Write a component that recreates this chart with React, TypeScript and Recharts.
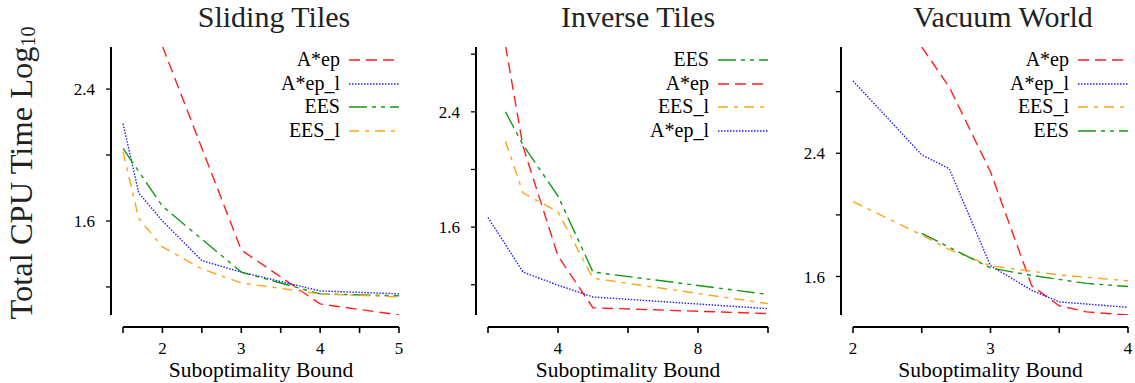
import React from "react";
import { LineChart, Line, XAxis, YAxis, Legend } from "recharts";

type Pair = [number, number];

// Sliding Tiles
const slidingAep: Pair[] = [[2, 2.66], [3, 1.424], [4, 1.097], [5, 1.03]];
const slidingAepL: Pair[] = [[1.5, 2.19], [1.7, 1.77], [2, 1.6], [2.5, 1.36], [3, 1.29], [4, 1.176], [5, 1.158]];
const slidingEes: Pair[] = [[1.5, 2.04], [2, 1.69], [3, 1.29], [4, 1.158], [5, 1.146]];
const slidingEesL: Pair[] = [[1.5, 2.02], [1.7, 1.615], [2, 1.443], [2.5, 1.31], [3, 1.224], [4, 1.158], [5, 1.14]];

// Inverse Tiles
const inverseEes: Pair[] = [[2.5, 2.4], [3, 2.17], [4, 1.816], [5, 1.288], [10, 1.133]];
const inverseAep: Pair[] = [[2.5, 2.86], [3, 2.16], [4, 1.4], [5, 1.04], [10, 1.0]];
const inverseEesL: Pair[] = [[2.5, 2.195], [3, 1.838], [4, 1.705], [5, 1.245], [10, 1.069]];
const inverseAepL: Pair[] = [[2, 1.667], [3, 1.288], [4, 1.197], [5, 1.115], [10, 1.034]];

// Vacuum World
const vacuumAep: Pair[] = [[2.5, 3.09], [2.7, 2.83], [3, 2.28], [3.3, 1.54], [3.5, 1.41], [3.7, 1.37], [4, 1.35]];
const vacuumAepL: Pair[] = [[2, 2.87], [2.5, 2.39], [2.7, 2.3], [3, 1.67], [3.3, 1.51], [3.5, 1.435], [4, 1.4]];
const vacuumEesL: Pair[] = [[2, 2.086], [2.5, 1.87], [2.7, 1.775], [3, 1.67], [3.5, 1.61], [4, 1.572]];
const vacuumEes: Pair[] = [[2.5, 1.88], [2.7, 1.79], [3, 1.655], [3.3, 1.607], [3.7, 1.555], [4, 1.535]];

// axis ticks
const slidingXTicks = [1.5, 2, 2.5, 3, 3.5, 4, 4.5, 5];
const slidingXLabels = [2, 3, 4, 5];
const inverseXTicks = [2, 4, 6, 8, 10];
const inverseXLabels = [4, 8];
const vacuumXTicks = [2, 2.5, 3, 3.5, 4];
const vacuumXLabels = [2, 3, 4];
const yLabels = [1.6, 2.4];

const SERIF = '"Liberation Serif", "Times New Roman", serif';

const STYLE: Record<string, { stroke: string; dash: string }> = {
  "A*ep": { stroke: "#ff1f1f", dash: "11 6" },
  "A*ep_l": { stroke: "#1f1fff", dash: "1.5 1.5" },
  EES: { stroke: "#139913", dash: "18 5 4 5 4 5" },
  EES_l: { stroke: "#ffa31a", dash: "10 6 4 6" },
};

interface Series {
  name: string;
  data: Pair[];
}

interface PanelProps {
  left: number;
  width: number;
  yAxisWidth: number;
  marginRight: number;
  title: string;
  titleX: number;
  xDomain: [number, number];
  xTicks: number[];
  xLabels: number[];
  yDomain: [number, number];
  yTicks: number[];
  series: Series[];
  yTitle?: boolean;
}

function LegendBox({ names }: { names: string[] }) {
  return (
    <div style={{ fontFamily: SERIF, fontSize: 20, color: "#000" }}>
      {names.map((n) => (
        <div key={n} style={{ display: "flex", alignItems: "center", height: 23.7 }}>
          <span style={{ width: 91, textAlign: "right", lineHeight: "23.7px" }}>{n}</span>
          <svg width={59} height={10}>
            <line
              x1={9}
              x2={59}
              y1={5}
              y2={5}
              stroke={STYLE[n].stroke}
              strokeDasharray={STYLE[n].dash}
              strokeWidth={1.4}
            />
          </svg>
        </div>
      ))}
    </div>
  );
}

function YTitle(props: any) {
  const vb = props.viewBox || { x: 0, y: 0, width: 0, height: 0 };
  const cx = vb.x + 32;
  const cy = vb.y + vb.height / 2 - 8;
  return (
    <text
      x={cx}
      y={cy}
      textAnchor="middle"
      transform={`rotate(-90, ${cx}, ${cy})`}
      fontFamily={SERIF}
      fontSize={32.5}
      fill="#222"
    >
      Total CPU Time Log
      <tspan fontSize={20} dy={3}>10</tspan>
    </text>
  );
}

function Panel(p: PanelProps) {
  const plotRight = p.width - p.marginRight;
  const tickStyle = { fontFamily: SERIF, fontSize: 17, fill: "#000" };
  return (
    <div style={{ position: "absolute", left: p.left, top: 0, width: p.width, height: 383 }}>
      <div
        style={{
          position: "absolute",
          left: p.titleX - 150,
          top: 0,
          width: 300,
          textAlign: "center",
          fontFamily: SERIF,
          fontSize: 30,
          lineHeight: "34px",
          color: "#222",
        }}
      >
        {p.title}
      </div>
      <LineChart width={p.width} height={383} margin={{ top: 47, right: p.marginRight, bottom: 0, left: 0 }}>
        <XAxis
          type="number"
          dataKey="x"
          domain={p.xDomain}
          ticks={p.xTicks}
          interval={0}
          tickFormatter={(v: number) => (p.xLabels.includes(v) ? String(v) : "")}
          height={68}
          tickSize={6}
          tickMargin={21}
          tick={tickStyle}
          axisLine={{ stroke: "#000", strokeWidth: 2 }}
          tickLine={{ stroke: "#000", strokeWidth: 1.6 }}
          label={{
            value: "Suboptimality Bound",
            position: "insideBottom",
            offset: 6,
            fontFamily: SERIF,
            fontSize: 21.5,
            fill: "#000",
          }}
        />
        <YAxis
          type="number"
          domain={p.yDomain}
          allowDataOverflow
          ticks={p.yTicks}
          interval={0}
          tickFormatter={(v: number) => (yLabels.some((l) => Math.abs(l - v) < 1e-6) ? v.toFixed(1) : "")}
          width={p.yAxisWidth}
          tickSize={5}
          tickMargin={23}
          tick={tickStyle}
          axisLine={{ stroke: "#000", strokeWidth: 2 }}
          tickLine={{ stroke: "#000", strokeWidth: 1.3 }}
          label={p.yTitle ? { content: (lp: any) => <YTitle {...lp} /> } : undefined}
        />
        {p.series.map((s) => (
          <Line
            key={s.name}
            name={s.name}
            data={s.data.map(([x, y]) => ({ x, y }))}
            dataKey="y"
            type="linear"
            stroke={STYLE[s.name].stroke}
            strokeDasharray={STYLE[s.name].dash}
            strokeWidth={1.4}
            dot={false}
            activeDot={false}
            isAnimationActive={false}
          />
        ))}
        <Legend
          layout="horizontal"
          verticalAlign="middle"
          align="center"
          wrapperStyle={{ top: 48, left: plotRight - 150, width: 150, height: 96 }}
          content={() => <LegendBox names={p.series.map((s) => s.name)} />}
        />
      </LineChart>
    </div>
  );
}

export default function App() {
  return (
    <div style={{ position: "absolute", left: 0, top: 0, width: 1135, height: 383, background: "#fff" }}>
      <style>{`
        .recharts-text { font-family: ${SERIF}; }
        .recharts-legend-wrapper { font-family: ${SERIF}; }
        .recharts-yAxis .recharts-cartesian-axis-line,
        .recharts-yAxis .recharts-cartesian-axis-ticks { transform: translateX(-12px); }
        .recharts-xAxis .recharts-cartesian-axis-line,
        .recharts-xAxis .recharts-cartesian-axis-ticks { transform: translateY(12px); }
      `}</style>
      <Panel
        left={0}
        width={410}
        yAxisWidth={123}
        marginRight={11}
        title="Sliding Tiles"
        titleX={274}
        xDomain={[1.5, 5]}
        xTicks={slidingXTicks}
        xLabels={slidingXLabels}
        yDomain={[1.03, 2.655]}
        yTicks={[1.2, 1.6, 2.0, 2.4]}
        yTitle
        series={[
          { name: "A*ep", data: slidingAep },
          { name: "A*ep_l", data: slidingAepL },
          { name: "EES", data: slidingEes },
          { name: "EES_l", data: slidingEesL },
        ]}
      />
      <Panel
        left={410}
        width={370}
        yAxisWidth={78}
        marginRight={12}
        title="Inverse Tiles"
        titleX={228}
        xDomain={[2, 10]}
        xTicks={inverseXTicks}
        xLabels={inverseXLabels}
        yDomain={[0.99, 2.85]}
        yTicks={[1.2, 1.6, 2.0, 2.4, 2.8]}
        series={[
          { name: "EES", data: inverseEes },
          { name: "A*ep", data: inverseAep },
          { name: "EES_l", data: inverseEesL },
          { name: "A*ep_l", data: inverseAepL },
        ]}
      />
      <Panel
        left={780}
        width={355}
        yAxisWidth={73}
        marginRight={7}
        title="Vacuum World"
        titleX={223}
        xDomain={[2, 4]}
        xTicks={vacuumXTicks}
        xLabels={vacuumXLabels}
        yDomain={[1.35, 3.09]}
        yTicks={[1.6, 2.0, 2.4, 2.8]}
        series={[
          { name: "A*ep", data: vacuumAep },
          { name: "A*ep_l", data: vacuumAepL },
          { name: "EES_l", data: vacuumEesL },
          { name: "EES", data: vacuumEes },
        ]}
      />
    </div>
  );
}
